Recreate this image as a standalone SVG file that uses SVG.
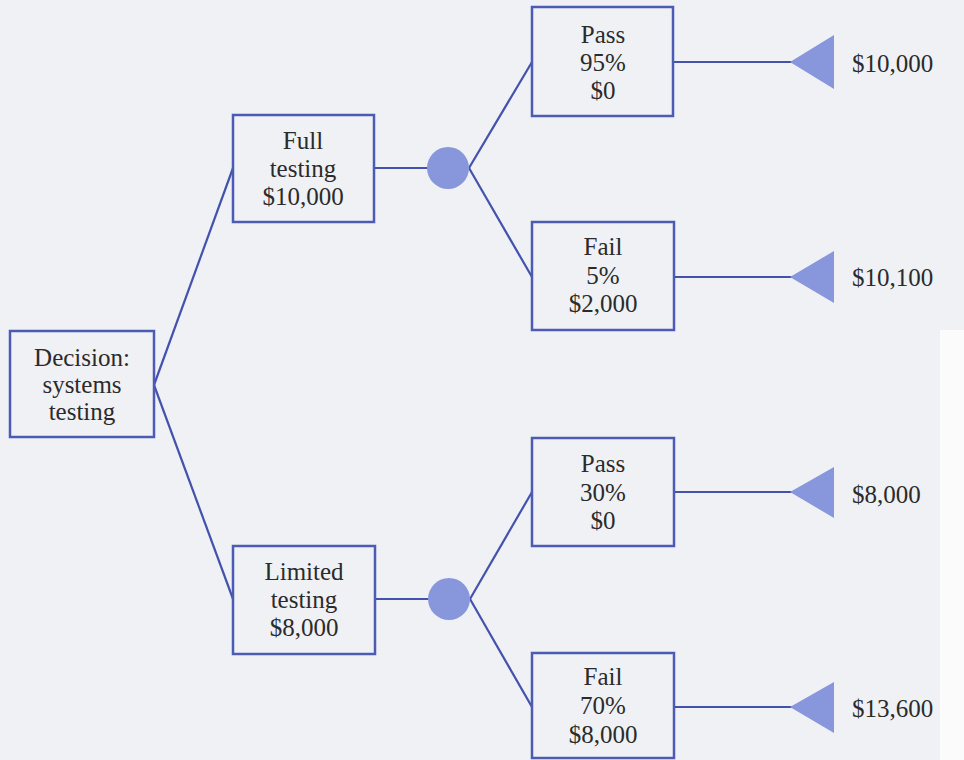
<svg xmlns="http://www.w3.org/2000/svg" width="964" height="760" viewBox="0 0 964 760">
<style>
.box{fill:none;stroke:#4c5cb4;stroke-width:2.5}
.ln{fill:none;stroke:#4353ad;stroke-width:2.2}
.chance{fill:#8897dc}
.term{fill:#8897dc}
text{font-family:"Liberation Serif","Times New Roman",serif;font-size:25px;fill:#2b2b2b;text-anchor:middle;dominant-baseline:central}
.val{text-anchor:start}
</style>
<rect x="0" y="0" width="964" height="760" fill="#eff1f4"/>
<rect x="940" y="330" width="24" height="430" fill="#fbfbfb"/>
<g id="connectors">
<path class="ln" d="M154 385 L233 168"/>
<path class="ln" d="M154 385 L233 599"/>
<path class="ln" d="M374 168 L448 168"/>
<path class="ln" d="M469 168 L532 62"/>
<path class="ln" d="M469 168 L532 277"/>
<path class="ln" d="M375 599 L449 599"/>
<path class="ln" d="M470 599 L532 492"/>
<path class="ln" d="M470 599 L532 707"/>
<path class="ln" d="M673 62 L792 62"/>
<path class="ln" d="M673 277 L792 277"/>
<path class="ln" d="M673 492 L792 492"/>
<path class="ln" d="M673 707 L792 707"/>
</g>
<g id="decision">
<rect class="box" x="10" y="331" width="144" height="106"/>
<text x="82" y="357">Decision:</text>
<text x="82" y="384">systems</text>
<text x="82" y="411">testing</text>
</g>
<g id="full-testing">
<rect class="box" x="233" y="115" width="141" height="107"/>
<text x="303" y="140">Full</text>
<text x="303" y="168">testing</text>
<text x="303" y="196">$10,000</text>
</g>
<g id="limited-testing">
<rect class="box" x="233" y="546" width="142" height="108"/>
<text x="304" y="571">Limited</text>
<text x="304" y="599">testing</text>
<text x="304" y="627">$8,000</text>
</g>
<g id="chance-full"><circle class="chance" cx="448" cy="168" r="21"/></g>
<g id="chance-limited"><circle class="chance" cx="449" cy="599" r="21"/></g>
<g id="pass-full">
<rect class="box" x="532" y="7" width="141" height="109"/>
<text x="603" y="34">Pass</text>
<text x="603" y="62">95%</text>
<text x="603" y="90">$0</text>
</g>
<g id="fail-full">
<rect class="box" x="532" y="222" width="142" height="108"/>
<text x="603" y="246">Fail</text>
<text x="603" y="275">5%</text>
<text x="603" y="303">$2,000</text>
</g>
<g id="pass-limited">
<rect class="box" x="532" y="438" width="142" height="108"/>
<text x="603" y="463">Pass</text>
<text x="603" y="492">30%</text>
<text x="603" y="520">$0</text>
</g>
<g id="fail-limited">
<rect class="box" x="532" y="653" width="142" height="105"/>
<text x="603" y="676">Fail</text>
<text x="603" y="705">70%</text>
<text x="603" y="734">$8,000</text>
</g>
<g id="end-1"><polygon class="term" points="790,62 834,35 834,89"/><text class="val" x="852" y="63">$10,000</text></g>
<g id="end-2"><polygon class="term" points="790,277 834,251 834,303"/><text class="val" x="852" y="277">$10,100</text></g>
<g id="end-3"><polygon class="term" points="790,492 834,467 834,518"/><text class="val" x="852" y="494">$8,000</text></g>
<g id="end-4"><polygon class="term" points="790,707 834,682 834,733"/><text class="val" x="852" y="708">$13,600</text></g>
</svg>
